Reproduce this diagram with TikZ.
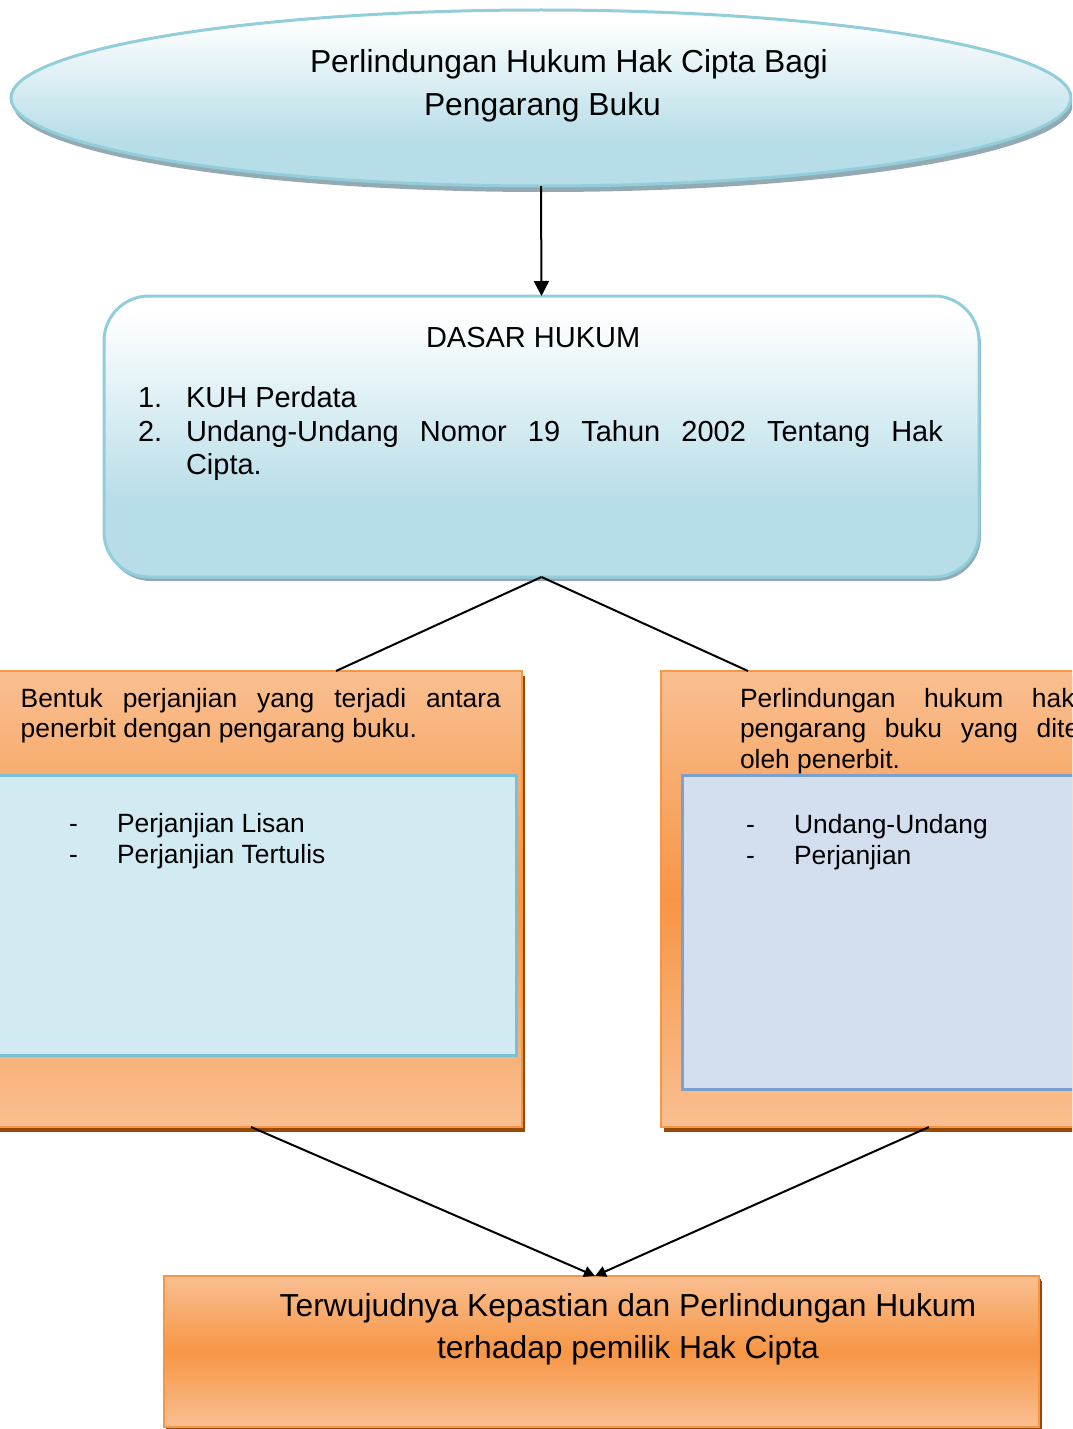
\documentclass[tikz,border=0pt]{standalone}
\usepackage{fontspec}
\setmainfont{Liberation Sans}
\usetikzlibrary{arrows.meta,shadows,shapes.geometric}
\definecolor{aqb}{HTML}{B7DDE8}
\definecolor{aqline}{HTML}{92CDDC}
\definecolor{aqshadow}{HTML}{93AAB3}
\definecolor{orL}{HTML}{F9BF91}
\definecolor{orD}{HTML}{F79646}
\definecolor{orLine}{HTML}{F79646}
\definecolor{orShadow}{HTML}{984807}
\definecolor{inA}{HTML}{D2EAF1}
\definecolor{inAline}{HTML}{78C0D4}
\definecolor{inB}{HTML}{D3DFEE}
\definecolor{inBline}{HTML}{7BA0CF}
\pgfdeclareverticalshading{aquagrad}{100bp}{color(0bp)=(aqb); color(25bp)=(aqb); color(38bp)=(aqb); color(72bp)=(white); color(100bp)=(white)}
\pgfdeclareverticalshading{orgrad}{100bp}{color(0bp)=(orL); color(25bp)=(orL); color(50bp)=(orD); color(75bp)=(orL); color(100bp)=(orL)}
\newcommand\fsA{\fontsize{31.8pt}{42pt}\selectfont}
\newcommand\fsB{\fontsize{29pt}{34pt}\selectfont}
\newcommand\fsC{\fontsize{26.4pt}{30.5pt}\selectfont}
\tikzset{
  shp/.style={inner sep=0pt, outer sep=0pt},
  aquabox/.style={shp, shading=aquagrad, draw=aqline, line width=3pt},
  orbox/.style={shp, rectangle, shading=orgrad, draw=orLine, line width=2pt,
    drop shadow={shadow xshift=3pt, shadow yshift=-5pt, fill=orShadow, opacity=1}},
  inbox/.style={shp, rectangle, line width=3pt},
  txt/.style={anchor=base west, inner sep=0pt, outer sep=0pt},
  ctxt/.style={anchor=base, inner sep=0pt, outer sep=0pt},
  con/.style={line width=2pt, black},
}
\begin{document}
\begin{tikzpicture}[x=1pt,y=-1pt]
\useasboundingbox (0,0) rectangle (1072,1429);
\clip (0,0) rectangle (1072,1429);

% top ellipse
\node[aquabox, ellipse, minimum width=1060pt, minimum height=176pt,
  drop shadow={shadow xshift=2pt, shadow yshift=-6pt, fill=aqshadow, opacity=1}] (top) at (541,98) {};
\node[txt, font=\fsA] (top1) at (310,73) {Perlindungan Hukum Hak Cipta Bagi};
\node[txt, font=\fsA] (top2) at (424,115) {Pengarang Buku};

% DASAR HUKUM box
\node[aquabox, rectangle, rounded corners=45pt, minimum width=875pt, minimum height=281pt,
  drop shadow={shadow xshift=2pt, shadow yshift=-4pt, fill=aqshadow, opacity=1}] (dasar) at (541.5,436.5) {};
\node[txt, font=\fsB] (dh) at (426,347) {DASAR HUKUM};
\node[txt, font=\fsB] (n1) at (138,407) {1.};
\node[txt, font=\fsB] (i1) at (186,407) {KUH Perdata};
\node[txt, font=\fsB] (n2) at (138,441) {2.};
\node[txt, font=\fsB] (i2) at (186,441) {\hbox to 757pt{Undang-Undang\hfill Nomor\hfill 19\hfill Tahun\hfill 2002\hfill Tentang\hfill Hak}};
\node[txt, font=\fsB] (i2b) at (186,474) {Cipta.};

% left orange box
\node[orbox, minimum width=534pt, minimum height=456pt] (lbox) at (255,899) {};
\node[inbox, fill=inA, draw=inAline, minimum width=528pt, minimum height=280pt] (ina) at (252,915) {};
\node[txt, font=\fsC] (la1) at (20.7,707) {\hbox to 480.3pt{Bentuk\hfill perjanjian\hfill yang\hfill terjadi\hfill antara}};
\node[txt, font=\fsC] (la2) at (20.7,737) {penerbit dengan pengarang buku.};
\node[txt, font=\fsC] (lb1) at (69,832) {-};
\node[txt, font=\fsC] (lc1) at (117,832) {Perjanjian Lisan};
\node[txt, font=\fsC] (lb2) at (69,863) {-};
\node[txt, font=\fsC] (lc2) at (117,863) {Perjanjian Tertulis};

% right orange box
\node[orbox, minimum width=449pt, minimum height=456pt] (rbox) at (885.5,899) {};
\node[inbox, fill=inB, draw=inBline, minimum width=428pt, minimum height=314pt] (inb) at (896,932) {};
\node[txt, font=\fsC] (ra1) at (740,707) {\hbox to 334.6pt{Perlindungan\hfill hukum\hfill hak}};
\node[txt, font=\fsC] (ra2) at (740,737) {\hbox to 339.3pt{pengarang\hfill buku\hfill yang\hfill dite}};
\node[txt, font=\fsC] (ra3) at (740,768) {oleh penerbit.};
\node[txt, font=\fsC] (rb1) at (746,833) {-};
\node[txt, font=\fsC] (rc1) at (794,833) {Undang-Undang};
\node[txt, font=\fsC] (rb2) at (746,864) {-};
\node[txt, font=\fsC] (rc2) at (794,864) {Perjanjian};

% bottom box
\node[orbox, drop shadow={shadow xshift=2pt, shadow yshift=-3pt, fill=orShadow, opacity=1},
  minimum width=875pt, minimum height=151pt] (bbox) at (601.5,1351.5) {};
\node[ctxt, font=\fsA] (b1) at (628,1316) {Terwujudnya Kepastian dan Perlindungan Hukum};
\node[ctxt, font=\fsA] (b2) at (628,1358) {terhadap pemilik Hak Cipta};

% connectors
\coordinate (lA) at (336,671);
\coordinate (rA) at (748,671);
\coordinate (lB) at (251,1127);
\coordinate (rB) at (929,1127);
\coordinate (bT) at (595,1276);
\draw[con, -{Triangle[length=15pt,width=15pt]}] (top.south) -- (dasar.north);
\draw[con] (dasar.south) -- (lA);
\draw[con] (dasar.south) -- (rA);
\draw[con, -{Triangle[length=11pt,width=11pt]}] (lB) -- (bT);
\draw[con, -{Triangle[length=11pt,width=11pt]}] (rB) -- (bT);
\end{tikzpicture}
\end{document}
